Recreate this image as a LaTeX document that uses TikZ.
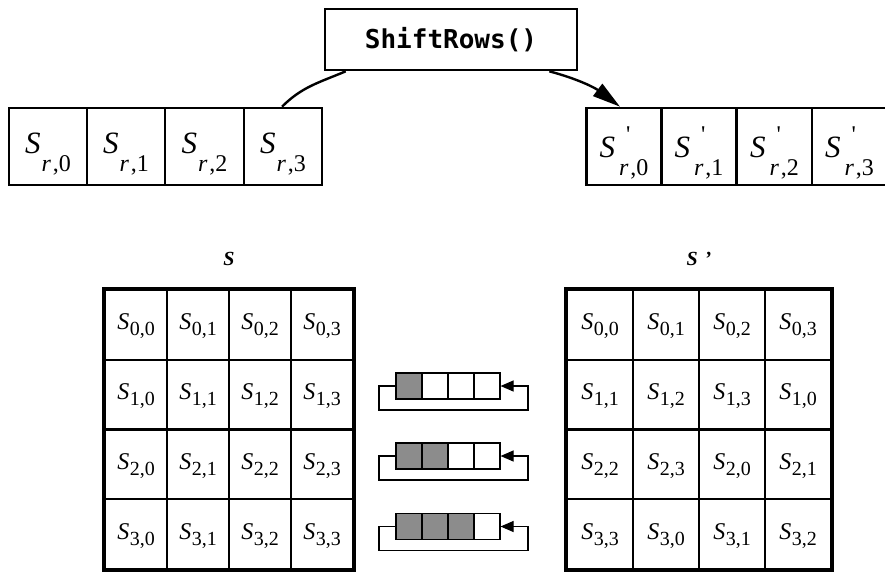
\documentclass[tikz,border=0pt]{standalone}
\usepackage{fontspec}
\setmainfont{Liberation Serif}
\newfontfamily\codefont{DejaVu Sans Mono}
\usetikzlibrary{arrows.meta}
\newcommand\subf{\fontsize{24}{26}\selectfont}
\newcommand\msubf{\fontsize{20}{22}\selectfont}
\newcommand\rS[1]{\textit{S}\raisebox{-18pt}{\subf\kern1pt\textit{r}\kern2pt,#1}}
\newcommand\pS[1]{\textit{S}\rlap{\kern11pt\raisebox{15pt}{\subf\textquotesingle}}\raisebox{-18pt}{\subf\kern4pt\textit{r}\kern2pt,#1}}
\newcommand\mS[2]{\textit{S}\raisebox{-6pt}{\msubf\kern0.5pt#1,#2}}
\tikzset{
  rowcell/.style={draw, line width=2.6pt, minimum height=77pt, inner sep=0pt,
    font=\fontsize{31}{34}\selectfont, text height=28pt, text depth=15pt},
  primecell/.style={rowcell, text height=32pt, text depth=11pt},
  matcell/.style={draw, line width=2.1pt, inner sep=0pt, minimum width=62pt, minimum height=69.75pt,
    font=\fontsize{24}{26}\selectfont, text height=17pt, text depth=7pt},
  regcell/.style={draw, line width=1.1pt, minimum width=26pt, minimum height=26pt, inner sep=0pt},
  shaded/.style={regcell, fill=black!45},
  loopline/.style={line width=1.1pt},
  title/.style={font=\fontsize{20}{24}\selectfont\bfseries\itshape},
  conn/.style={line width=2.4pt},
}
\begin{document}
\begin{tikzpicture}[x=1pt,y=-1pt]
\useasboundingbox (0,0) rectangle (885,573);
\clip (0,0) rectangle (885,573);
% ShiftRows box
\node[draw, line width=2.6pt, minimum width=252pt, minimum height=61pt, inner sep=0pt,
  font=\codefont\bfseries\fontsize{26}{30}\selectfont] (sr) at (451,39.5) {ShiftRows()};
% top rows
\foreach \j/\x/\w in {0/48/78,1/126/78,2/204.5/79,3/283/78}
  \node[rowcell, minimum width=\w pt] (a\j) at (\x,146.5) {\rS{\j}};
\foreach \j/\x in {0/624,1/699,2/774.5,3/849.5}
  \node[primecell, minimum width=75pt] (b\j) at (\x,146.5) {\pS{\j}};
% curved connectors
\draw[conn] ([xshift=-1pt]a3.north) to[out=45,in=203] ([xshift=22pt]sr.south west);
\draw[conn, -{Triangle[length=28pt,width=15pt]}] ([xshift=-29pt]sr.south east) to[out=-15,in=143] ([xshift=-4pt]b0.north);
% titles
\node[title] (tS) at (229,258.5) {S};
\node[title] (tSp) at (699,258.5) {S\hspace{7pt}’};
% matrices
\foreach \i in {0,1,2,3}{
  \foreach \j in {0,1,2,3}{
    \pgfmathtruncatemacro\k{mod(\i+\j,4)}
    \node[matcell] (L\i\j) at ({105+62*(\j+0.5)},{290+69.75*(\i+0.5)}) {\mS{\i}{\j}};
    \node[matcell, minimum width=66pt] (R\i\j) at ({567+66*(\j+0.5)},{290+69.75*(\i+0.5)}) {\mS{\i}{\k}};
  }
}
\draw[line width=3.2pt] (L00.north west) rectangle (L33.south east);
\draw[line width=3.2pt] (R00.north west) rectangle (R33.south east);
% shift registers
\foreach \r/\y/\n in {1/386/1,2/456/2,3/526.5/3}{
  \foreach \c in {0,1,2,3}{
    \ifnum\c<\n
      \node[shaded] (g\r\c) at ({409+26*\c},\y) {};
    \else
      \node[regcell] (g\r\c) at ({409+26*\c},\y) {};
    \fi
  }
  \coordinate (pl\r) at (379,\y);
  \coordinate (pr\r) at (528,\y);
  \draw[loopline, -{Triangle[length=13pt,width=11pt]}] (g\r0.west) -- (pl\r) -- ++(0,24) -| (pr\r) -- (g\r3.east);
}
\end{tikzpicture}
\end{document}
